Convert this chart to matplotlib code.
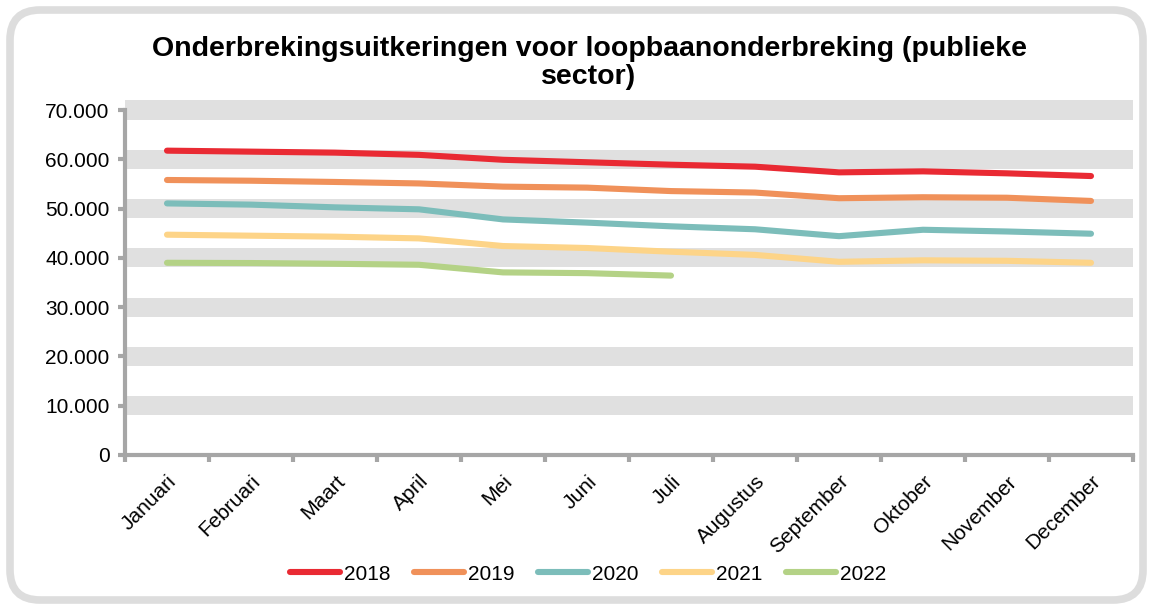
import matplotlib
matplotlib.use("Agg")
import matplotlib.pyplot as plt
from matplotlib.patches import FancyBboxPatch
import numpy as np

plt.rcParams['font.family'] = ['Liberation Sans', 'DejaVu Sans']

months = ["Januari", "Februari", "Maart", "April", "Mei", "Juni", "Juli",
          "Augustus", "September", "Oktober", "November", "December"]
y2018 = [61750, 61550, 61350, 60900, 59900, 59400, 58900, 58500, 57350, 57550, 57150, 56600]
y2019 = [55800, 55650, 55400, 55100, 54450, 54250, 53550, 53250, 52100, 52300, 52200, 51550]
y2020 = [51050, 50800, 50250, 49850, 47800, 47150, 46400, 45800, 44400, 45700, 45350, 44900]
y2021 = [44700, 44500, 44300, 43950, 42400, 42000, 41250, 40600, 39200, 39500, 39400, 39000]
y2022 = [39000, 38950, 38800, 38600, 37050, 36900, 36400]
series = [("2018", y2018, "#E92A33"), ("2019", y2019, "#F0915A"),
          ("2020", y2020, "#7CBDBA"), ("2021", y2021, "#FDD488"),
          ("2022", y2022, "#B4D286")]
yticks = [0, 10000, 20000, 30000, 40000, 50000, 60000, 70000]
ytick_labels = ["0", "10.000", "20.000", "30.000", "40.000", "50.000", "60.000", "70.000"]
title = "Onderbrekingsuitkeringen voor loopbaanonderbreking (publieke\nsector)"

fig = plt.figure(figsize=(11.51, 6.06), dpi=100)
ax = fig.add_axes([125/1151, 1-455/606, (1133-125)/1151, (455-110)/606])

ax.set_xlim(-0.5, 11.5)
ax.set_ylim(0, 70000)

# thick banded gridlines
half = 1930
for t in yticks[1:]:
    ax.axhspan(t - half, t + half, color="#E0E0E0", lw=0, zorder=0, clip_on=False)

for name, vals, col in series:
    ax.plot(np.arange(len(vals)), vals, color=col, lw=4.4, label=name,
            solid_capstyle="round", solid_joinstyle="round", zorder=3)

for s in ["top", "right"]:
    ax.spines[s].set_visible(False)
for s in ["left", "bottom"]:
    ax.spines[s].set_color("#A6A6A6")
    ax.spines[s].set_linewidth(3)
    ax.spines[s].set_zorder(4)

ax.set_yticks(yticks)
ax.set_yticklabels(ytick_labels, fontsize=15)
ax.tick_params(axis="y", length=5, width=3, color="#A6A6A6", pad=6)

ax.set_xticks(np.arange(-0.5, 12, 1), minor=False)
ax.set_xticklabels([])
ax.tick_params(axis="x", length=5, width=3, color="#A6A6A6", direction="out")
ax.set_xticks(np.arange(12), minor=True)
ax.set_xticklabels(months, minor=True, rotation=45, ha="right",
                   rotation_mode="anchor", fontsize=15)
ax.tick_params(axis="x", which="minor", length=0, pad=12)

fig.text(589/1151, 1-63/606, title, ha="center", va="center",
         fontsize=20.5, fontweight="bold", linespacing=1.12)

leg = fig.legend(loc="center", bbox_to_anchor=(588/1151, 1-574/606), ncol=5,
                 frameon=False, fontsize=15, handlelength=2.4, handletextpad=0.2,
                 columnspacing=1.12)
for h in leg.get_lines():
    h.set_linewidth(4.4)
    h.set_solid_capstyle("round")

border = FancyBboxPatch((0.10, 0.06), 11.33, 5.90,
                        boxstyle="round,pad=0,rounding_size=0.3",
                        transform=fig.dpi_scale_trans, fill=False,
                        edgecolor="#DDDDDD", linewidth=5.5, zorder=-1)
fig.patches.append(border)

fig.savefig("out.png", dpi=100)
